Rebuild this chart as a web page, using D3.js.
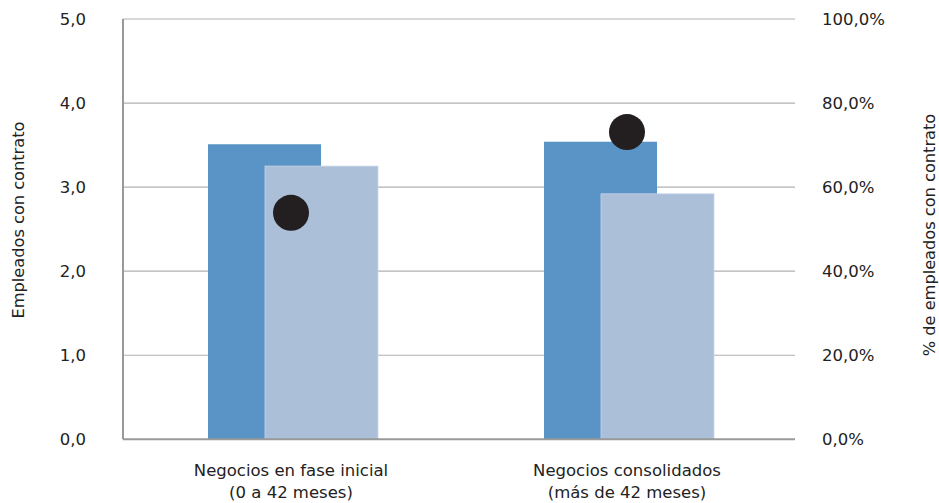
<!DOCTYPE html>
<html><head><meta charset="utf-8">
<script src="https://cdn.jsdelivr.net/npm/d3@7"></script>
<style>body{margin:0;background:#fff}svg{display:block}text{font-family:"DejaVu Sans",sans-serif;fill:#222}</style>
</head><body><svg id="c" width="939" height="503"></svg>
<script>
const categories = [["Negocios en fase inicial","(0 a 42 meses)"],["Negocios consolidados","(más de 42 meses)"]];
const seriesA = [3.51, 3.54];
const seriesB = [3.25, 2.92];
const pctValues = [0.539, 0.731];
const leftTicks = [0,1,2,3,4,5];
const rightTicks = [0,0.2,0.4,0.6,0.8,1.0];

const svg = d3.select("#c");
const L = 123, R = 795, T = 19, B = 439.3;
const x = d3.scaleBand().domain(d3.range(categories.length)).range([L,R]);
const y = d3.scaleLinear().domain([0,5]).range([B,T]);
const y2 = d3.scaleLinear().domain([0,1]).range([B,T]);
const bw = 113;
const fmt1 = v => d3.format(".1f")(v).replace(".",",");
const fmtP = v => d3.format(".1f")(v*100).replace(".",",")+"%";

// gridlines
svg.append("g").selectAll("line").data(leftTicks.filter(d=>d>0)).join("line")
  .attr("x1",L).attr("x2",R).attr("y1",d=>y(d)).attr("y2",d=>y(d))
  .attr("stroke","#b0b0b0").attr("stroke-width",1.2);

// bars
const g = svg.append("g");
categories.forEach((c,i)=>{
  const cx = x(i)+x.bandwidth()/2;
  g.append("rect").attr("x",cx-83).attr("width",bw).attr("y",y(seriesA[i])).attr("height",B-y(seriesA[i])).attr("fill","#5a94c6");
  g.append("rect").attr("x",cx-26).attr("width",bw).attr("y",y(seriesB[i])).attr("height",B-y(seriesB[i])).attr("fill","#abbfd9").attr("stroke","#c8d6e8").attr("stroke-width",0.8);
});

// axes lines
svg.append("line").attr("x1",L).attr("x2",L).attr("y1",T).attr("y2",B).attr("stroke","#999").attr("stroke-width",2);
svg.append("line").attr("x1",L).attr("x2",R).attr("y1",B).attr("y2",B).attr("stroke","#999").attr("stroke-width",2);

// dots
svg.append("g").selectAll("circle").data(pctValues).join("circle")
  .attr("cx",(d,i)=>x(i)+x.bandwidth()/2).attr("cy",d=>y2(d)).attr("r",18).attr("fill","#231f20");

// left tick labels
svg.append("g").selectAll("text").data(leftTicks).join("text")
  .attr("x",86).attr("y",d=>y(d)).attr("dy","0.35em").attr("text-anchor","end").attr("font-size",16.5).text(fmt1);
// right tick labels
svg.append("g").selectAll("text").data(rightTicks).join("text")
  .attr("x",822).attr("y",d=>y2(d)).attr("dy","0.35em").attr("text-anchor","start").attr("font-size",16.5).text(fmtP);

// category labels
categories.forEach((c,i)=>{
  const cx = x(i)+x.bandwidth()/2;
  const t = svg.append("text").attr("text-anchor","middle").attr("font-size",16.5);
  t.append("tspan").attr("x",cx).attr("y",476).text(c[0]);
  t.append("tspan").attr("x",cx).attr("y",498).text(c[1]);
});

// axis titles
svg.append("text").attr("transform","translate(24,220) rotate(-90)").attr("text-anchor","middle").attr("font-size",16.2).text("Empleados con contrato");
svg.append("text").attr("transform","translate(935,235) rotate(-90)").attr("text-anchor","middle").attr("font-size",16.2).text("% de empleados con contrato");
</script></body></html>
